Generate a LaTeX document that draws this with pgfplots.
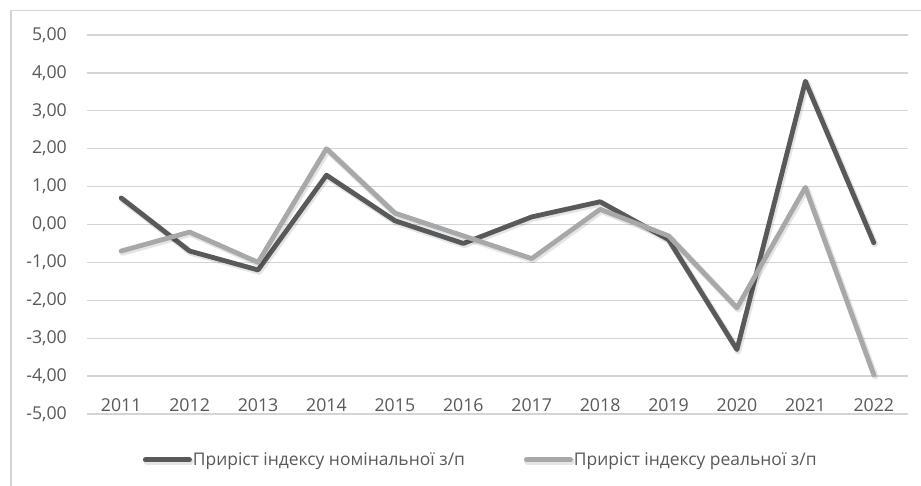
\documentclass[border=0pt]{standalone}
\usepackage{pgfplots}
\pgfplotsset{compat=1.18}
\usepackage{fontspec}
\setmainfont{Open Sans}
\definecolor{darkser}{HTML}{58595B}
\definecolor{lightser}{HTML}{A7A8AA}
\definecolor{txt}{HTML}{595959}
\definecolor{gridc}{HTML}{D4D4D4}
\begin{document}
\begin{tikzpicture}
\path[use as bounding box] (0,0) rectangle (921bp,486bp);
\draw[gridc, line width=1.5bp] (10.75bp,-5bp) -- (10.75bp,475.25bp) -- (930bp,475.25bp);
\begin{axis}[
  at={(87bp,72bp)}, anchor=south west,
  scale only axis, width=821bp, height=379bp,
  xmin=-0.5, xmax=11.5, ymin=-5, ymax=5,
  xtick={0,...,11},
  xticklabels={2011,2012,2013,2014,2015,2016,2017,2018,2019,2020,2021,2022},
  ytick={-5,-4,...,5},
  ymajorgrids,
  major grid style={gridc, line width=1.3bp},
  axis line style={draw=none},
  major tick length=0pt,
  tick style={draw=none},
  font=\fontsize{17.8}{21}\selectfont,
  tick label style={text=txt},
  /pgf/number format/assume math mode=true,
  yticklabel={\pgfmathprintnumber[fixed,fixed zerofill,precision=2,use comma]{\tick}},
  yticklabel style={anchor=east, inner sep=0pt, xshift=-20bp},
  xticklabel style={anchor=center, inner sep=0pt, yshift=9bp},
  legend columns=2,
  legend style={at={(0.479,-0.121)}, anchor=center, draw=none, fill=none,
    font=\fontsize{17.5}{21}\selectfont, text=txt,
    nodes={inner xsep=1bp},
    /tikz/every even column/.append style={column sep=58bp}},
  legend image code/.code={\draw[#1, line width=5bp, line cap=round] (0bp,0bp) -- (44bp,0bp);},
  shadowed/.style={preaction={draw, black, opacity=0.10, line width=6.5bp,
     transform canvas={xshift=1.2bp,yshift=-1.5bp}}},
]
\addplot[darkser, line width=4.8bp, line join=round, line cap=round, shadowed] coordinates {
(0,0.7) (1,-0.7) (2,-1.2) (3,1.3) (4,0.1) (5,-0.5) (6,0.2) (7,0.6) (8,-0.4) (9,-3.3) (10,3.78) (11,-0.48)};
\addlegendentry{Приріст індексу номінальної з/п}
\addplot[lightser, line width=4.8bp, line join=round, line cap=round, shadowed] coordinates {
(0,-0.7) (1,-0.2) (2,-1.0) (3,2.0) (4,0.3) (5,-0.3) (6,-0.9) (7,0.4) (8,-0.3) (9,-2.2) (10,0.98) (11,-3.96)};
\addlegendentry{Приріст індексу реальної з/п}
\end{axis}
\end{tikzpicture}
\end{document}
